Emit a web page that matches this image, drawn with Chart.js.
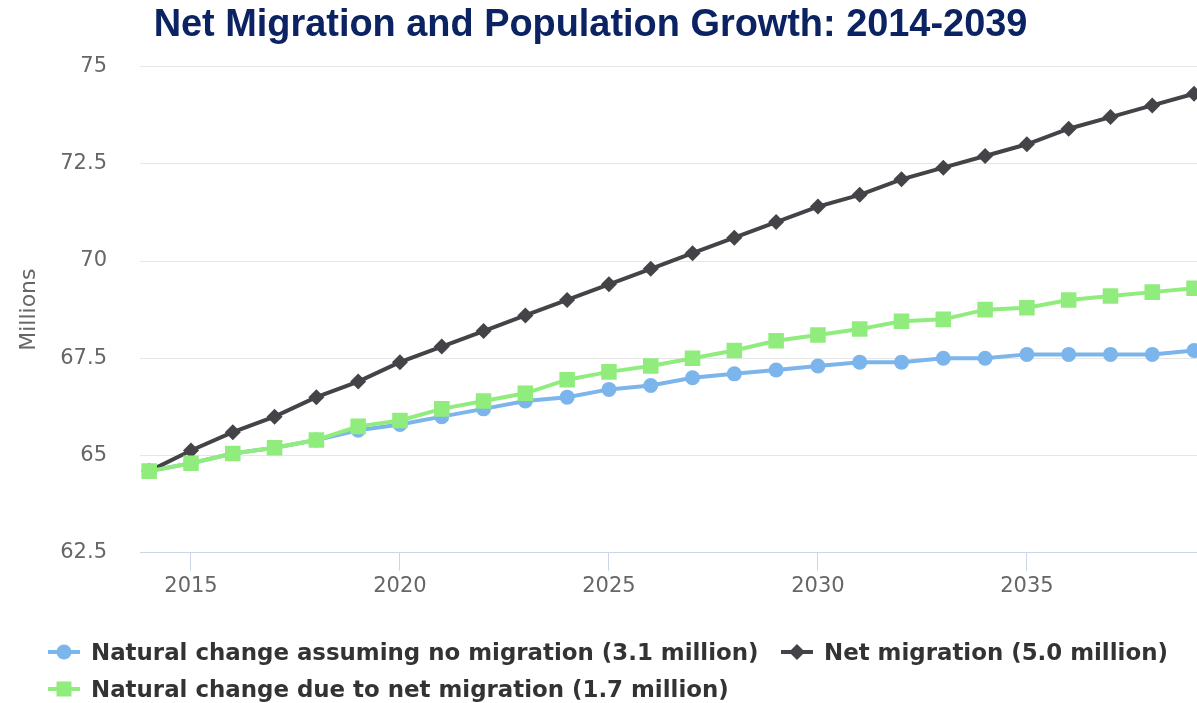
<!DOCTYPE html>
<html>
<head>
<meta charset="utf-8">
<script src="https://cdn.jsdelivr.net/npm/chart.js@4"></script>
<style>
  html, body { margin: 0; padding: 0; background: #fff; }
  #wrap { position: relative; width: 1197px; height: 703px; overflow: hidden; }
  #chart { position: absolute; left: 0; top: 0; }
  .lg { position: absolute; height: 30px; display: flex; align-items: center;
        font-family: "DejaVu Sans", Verdana, sans-serif; font-weight: bold; font-size: 22.9px; color: #333; white-space: nowrap; }
  .lg svg { margin-right: 11px; }
</style>
</head>
<body>
<div id="wrap">
  <canvas id="chart" width="1197" height="703"></canvas>
  <div class="lg" style="left:48px; top:637px;">
    <svg width="32" height="20"><line x1="0" y1="10" x2="32" y2="10" stroke="#7cb5ec" stroke-width="4"/><circle cx="16" cy="10" r="7.5" fill="#7cb5ec"/></svg>
    <span>Natural change assuming no migration (3.1 million)</span>
  </div>
  <div class="lg" style="left:781px; top:637px;">
    <svg width="32" height="20"><line x1="0" y1="10" x2="32" y2="10" stroke="#434348" stroke-width="4"/><polygon points="16,2 24,10 16,18 8,10" fill="#434348"/></svg>
    <span>Net migration (5.0 million)</span>
  </div>
  <div class="lg" style="left:48px; top:674px;">
    <svg width="32" height="20"><line x1="0" y1="10" x2="32" y2="10" stroke="#90ed7d" stroke-width="4"/><rect x="8.5" y="2.5" width="15" height="15" fill="#90ed7d"/></svg>
    <span>Natural change due to net migration (1.7 million)</span>
  </div>
</div>
<script>
  // values, millions
  const years = [2014, 2015, 2016, 2017, 2018, 2019, 2020, 2021, 2022, 2023, 2024, 2025, 2026,
                 2027, 2028, 2029, 2030, 2031, 2032, 2033, 2034, 2035, 2036, 2037, 2038, 2039];
  const noMigration = [64.6, 64.8, 65.05, 65.2, 65.4, 65.65, 65.8, 66.0, 66.2, 66.4, 66.5, 66.7, 66.8,
                       67.0, 67.1, 67.2, 67.3, 67.4, 67.4, 67.5, 67.5, 67.6, 67.6, 67.6, 67.6, 67.7];
  const netMigration = [64.6, 65.13, 65.6, 66.0, 66.5, 66.9, 67.4, 67.8, 68.2, 68.6, 69.0, 69.4, 69.8,
                        70.2, 70.6, 71.0, 71.4, 71.7, 72.1, 72.4, 72.7, 73.0, 73.4, 73.7, 74.0, 74.3];
  const dueToMigration = [64.6, 64.8, 65.05, 65.2, 65.4, 65.75, 65.9, 66.2, 66.4, 66.6, 66.95, 67.15, 67.3,
                          67.5, 67.7, 67.95, 68.1, 68.25, 68.45, 68.5, 68.75, 68.8, 69.0, 69.1, 69.2, 69.3];
  const xTicks = [2015, 2020, 2025, 2030, 2035];
  const seriesNames = ['Natural change assuming no migration (3.1 million)',
                       'Net migration (5.0 million)',
                       'Natural change due to net migration (1.7 million)'];

  const pts = arr => arr.map((v, i) => ({ x: years[i], y: v }));
  const tickFont = { family: '"DejaVu Sans", Verdana, sans-serif', size: 21 };

  // the title sits a little left of the canvas centre in the original
  const nudgeTitle = {
    id: 'nudgeTitle',
    afterLayout(chart) {
      if (chart.titleBlock) { chart.titleBlock.left -= 8; chart.titleBlock.right -= 8; }
    }
  };

  new Chart(document.getElementById('chart'), {
    type: 'line',
    plugins: [nudgeTitle],
    data: {
      datasets: [
        { label: seriesNames[0], data: pts(noMigration), order: 2,
          borderColor: '#7cb5ec', backgroundColor: '#7cb5ec', borderWidth: 4,
          pointStyle: 'circle', pointRadius: 7.5, pointBorderWidth: 0 },
        { label: seriesNames[1], data: pts(netMigration), order: 1,
          borderColor: '#434348', backgroundColor: '#434348', borderWidth: 4,
          pointStyle: 'rectRot', pointRadius: 8, pointBorderWidth: 0 },
        { label: seriesNames[2], data: pts(dueToMigration), order: 0,
          borderColor: '#90ed7d', backgroundColor: '#90ed7d', borderWidth: 4,
          pointStyle: 'rect', pointRadius: 11, pointBorderWidth: 0 }
      ]
    },
    options: {
      responsive: false,
      animation: false,
      layout: { autoPadding: false, padding: { left: 0, right: 0, top: 0, bottom: 101 } },
      scales: {
        x: {
          type: 'linear',
          min: 2013.78,
          max: 2039.07,
          afterBuildTicks: s => { s.ticks = xTicks.map(v => ({ value: v })); },
          afterFit: s => { s.paddingLeft = 0; s.paddingRight = 0; },
          ticks: { color: '#666', font: tickFont, padding: 3, maxRotation: 0, callback: v => String(v) },
          grid: { drawOnChartArea: false, drawTicks: true, tickLength: 18, color: '#ccd6eb', lineWidth: 1 },
          border: { display: true, color: '#ccd6eb', width: 1 }
        },
        y: {
          min: 62.5,
          max: 75,
          afterFit: s => { s.width = 140; },
          ticks: { stepSize: 2.5, color: '#666', font: tickFont, padding: 33 },
          grid: { color: '#e6e6e6', lineWidth: 1, drawTicks: false },
          border: { display: false },
          title: { display: true, text: 'Millions', color: '#666',
                   font: { family: '"DejaVu Sans", Verdana, sans-serif', size: 22 },
                   padding: { top: 16, bottom: 0 } }
        }
      },
      plugins: {
        legend: { display: false },
        tooltip: { enabled: false },
        title: {
          display: true,
          text: 'Net Migration and Population Growth: 2014-2039',
          color: '#0c2363',
          font: { family: '"Liberation Sans", Arial, sans-serif', size: 37.9, weight: 'bold' },
          padding: { top: 3, bottom: 18 }
        }
      }
    }
  });
</script>
</body>
</html>
